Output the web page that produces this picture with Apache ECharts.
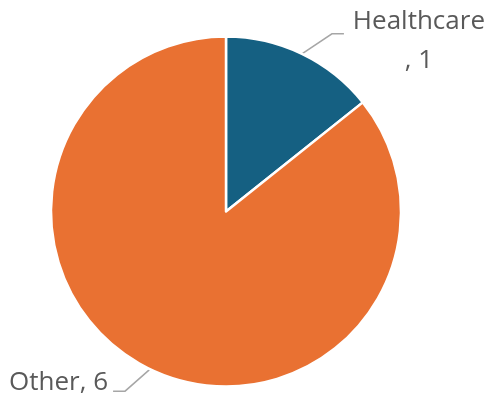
<!DOCTYPE html>
<html>
<head>
<meta charset="utf-8">
<script src="https://cdn.jsdelivr.net/npm/echarts@6/dist/echarts.min.js"></script>
<style>
  html, body { margin: 0; padding: 0; background: #ffffff; }
  #chart { width: 491px; height: 402px; }
</style>
</head>
<body>
<div id="chart"></div>
<script>
// Sector shares
const categories = ['Healthcare', 'Other'];
const values = [1, 6];
const colors = ['#156082', '#E97132'];
// Category labels that wrap before the value
const wrapLabel = [true, false];

// Pie geometry (px)
const CX = 226, CY = 211.5, R = 175;

const total = values.reduce((a, b) => a + b, 0);
function midAngle(i) {
  let before = 0;
  for (let k = 0; k < i; k++) before += values[k];
  return ((before + values[i] / 2) / total) * 2 * Math.PI; // clockwise from top
}

const chart = echarts.init(document.getElementById('chart'), null, { renderer: 'canvas' });

chart.setOption({
  animation: false,
  backgroundColor: '#ffffff',
  series: [{
    type: 'pie',
    center: [CX, CY],
    radius: [0, R],
    startAngle: 90,
    clockwise: true,
    avoidLabelOverlap: false,
    itemStyle: { borderColor: '#ffffff', borderWidth: 2.5 },
    label: {
      show: true,
      position: 'outside',
      color: '#595959',
      fontFamily: 'Open Sans',
      fontSize: 26,
      lineHeight: 39,
      formatter: p => wrapLabel[p.dataIndex] ? p.name + '\n, ' + p.value : p.name + ', ' + p.value
    },
    labelLine: {
      show: true,
      lineStyle: { color: '#a6a6a6', width: 1.5 }
    },
    labelLayout: function (params) {
      const i = params.dataIndex;
      const a = midAngle(i);
      const p0 = [CX + R * Math.sin(a), CY - R * Math.cos(a)];
      const right = Math.sin(a) >= 0;
      if (right) {
        const p1 = [p0[0] + 30, p0[1] - 20];
        const p2 = [p1[0] + 12, p1[1]];
        return {
          x: p2[0] + 75,
          y: p2[1] + 7,
          align: 'center',
          verticalAlign: 'middle',
          labelLinePoints: [p0, p1, p2]
        };
      } else {
        const p1 = [p0[0] - 25, p0[1] + 22];
        const p2 = [p1[0] - 12, p1[1]];
        return {
          x: p2[0] - 5,
          y: p2[1] - 9,
          align: 'right',
          verticalAlign: 'middle',
          labelLinePoints: [p0, p1, p2]
        };
      }
    },
    data: categories.map((name, i) => ({
      name: name,
      value: values[i],
      itemStyle: { color: colors[i] }
    }))
  }]
});
</script>
</body>
</html>
